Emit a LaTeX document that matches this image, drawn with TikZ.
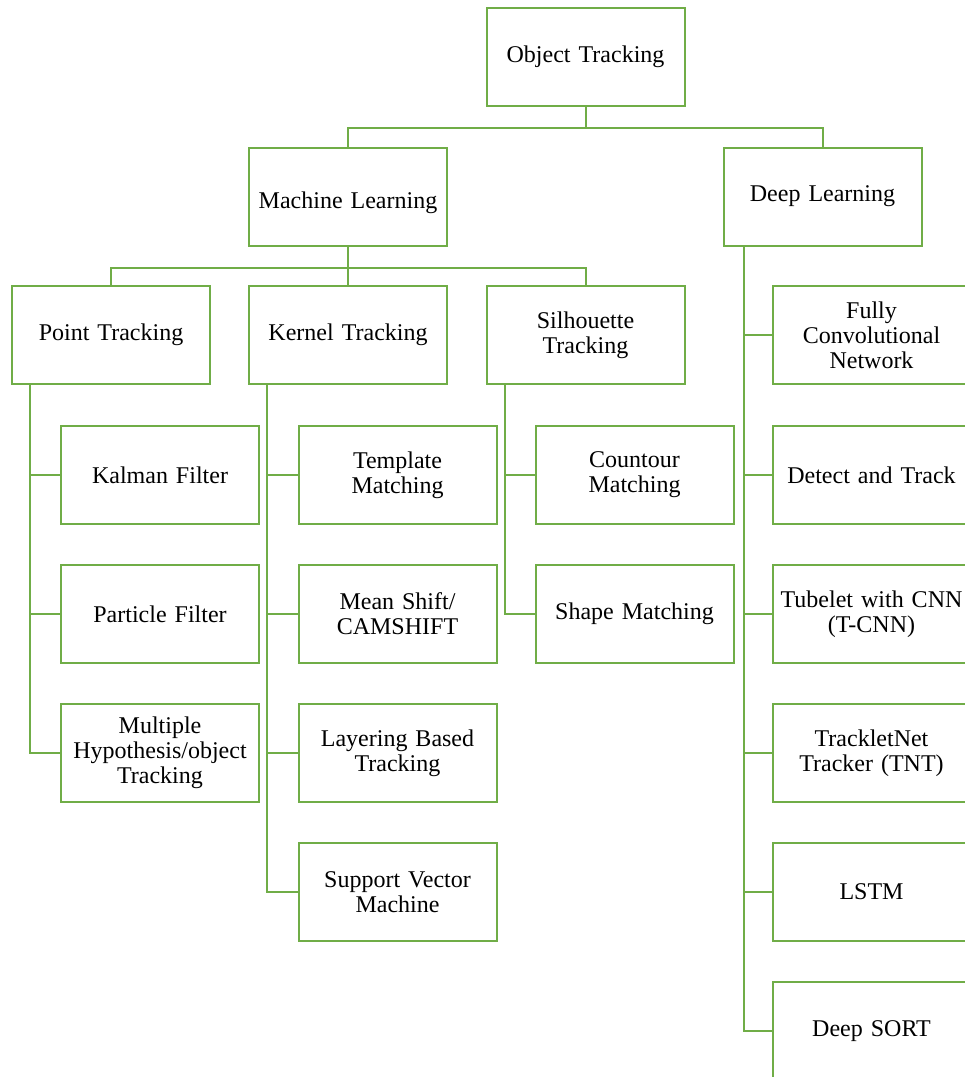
\documentclass[tikz,border=0pt]{standalone}
\usepackage{fontspec}
\setmainfont{Liberation Serif}
\usetikzlibrary{calc}
\definecolor{tgreen}{RGB}{112,173,71}
\begin{document}
\begin{tikzpicture}[x=1pt,y=-1pt,
  box/.style={draw=tgreen, line width=2pt, fill=white, minimum width=197pt,
    minimum height=98pt, inner sep=2pt, align=center, text width=194pt,
    font=\fontsize{24}{25}\selectfont},
  link/.style={draw=tgreen, line width=2pt}]
\useasboundingbox (0,0) rectangle (965,1077);
\clip (0,0) rectangle (965,1077);

% top levels
\node[box] (ot) at (585.5,57) {Object Tracking};
\node[box] (ml) at (348,196.5) {\rule{0pt}{29pt}Machine Learning};
\node[box] (dl) at (822.5,196.5) {Deep Learning};

% machine learning families
\node[box] (pt) at (111,335) {Point Tracking};
\node[box] (kt) at (348,335) {Kernel Tracking};
\node[box] (st) at (585.5,335) {Silhouette\\Tracking};

% point tracking methods
\node[box] (kal) at (160,475) {Kalman Filter};
\node[box] (par) at (160,614) {Particle Filter};
\node[box] (mht) at (160,753) {Multiple\\Hypothesis/object\\Tracking};

% kernel tracking methods
\node[box] (tm) at (397.5,475) {Template\\Matching};
\node[box] (ms) at (397.5,614) {Mean Shift/\\CAMSHIFT};
\node[box] (lb) at (397.5,753) {Layering Based\\Tracking};
\node[box] (svm) at (397.5,892) {Support Vector\\Machine};

% silhouette tracking methods
\node[box] (cm) at (634.5,475) {Countour\\Matching};
\node[box] (sm) at (634.5,614) {Shape Matching};

% deep learning methods
\node[box] (fcn) at (871.5,335) {Fully\\Convolutional\\Network};
\node[box] (dt) at (871.5,475) {Detect and Track};
\node[box] (tc) at (871.5,614) {Tubelet with CNN\\(T-CNN)};
\node[box] (tnt) at (871.5,753) {TrackletNet\\Tracker (TNT)};
\node[box] (lstm) at (871.5,892) {LSTM};
\node[box] (ds) at (871.5,1031) {Deep SORT};

% connectors
\draw[link] (ot.south) -- ++(0,21) -| (ml.north);
\draw[link] (ot.south) -- ++(0,21) -| (dl.north);
\draw[link] (ml.south) -- ++(0,21) -| (pt.north);
\draw[link] (ml.south) -- ++(0,21) -| (st.north);
\draw[link] (ml.south) -- (kt.north);

\coordinate (ptr) at ($(pt.south west)+(19,0)$);
\foreach \n in {kal,par,mht} \draw[link] (ptr) |- (\n.west);
\coordinate (ktr) at ($(kt.south west)+(19,0)$);
\foreach \n in {tm,ms,lb,svm} \draw[link] (ktr) |- (\n.west);
\coordinate (str) at ($(st.south west)+(19,0)$);
\foreach \n in {cm,sm} \draw[link] (str) |- (\n.west);
\coordinate (dtr) at ($(dl.south west)+(21,0)$);
\foreach \n in {fcn,dt,tc,tnt,lstm,ds} \draw[link] (dtr) |- (\n.west);
\end{tikzpicture}
\end{document}
